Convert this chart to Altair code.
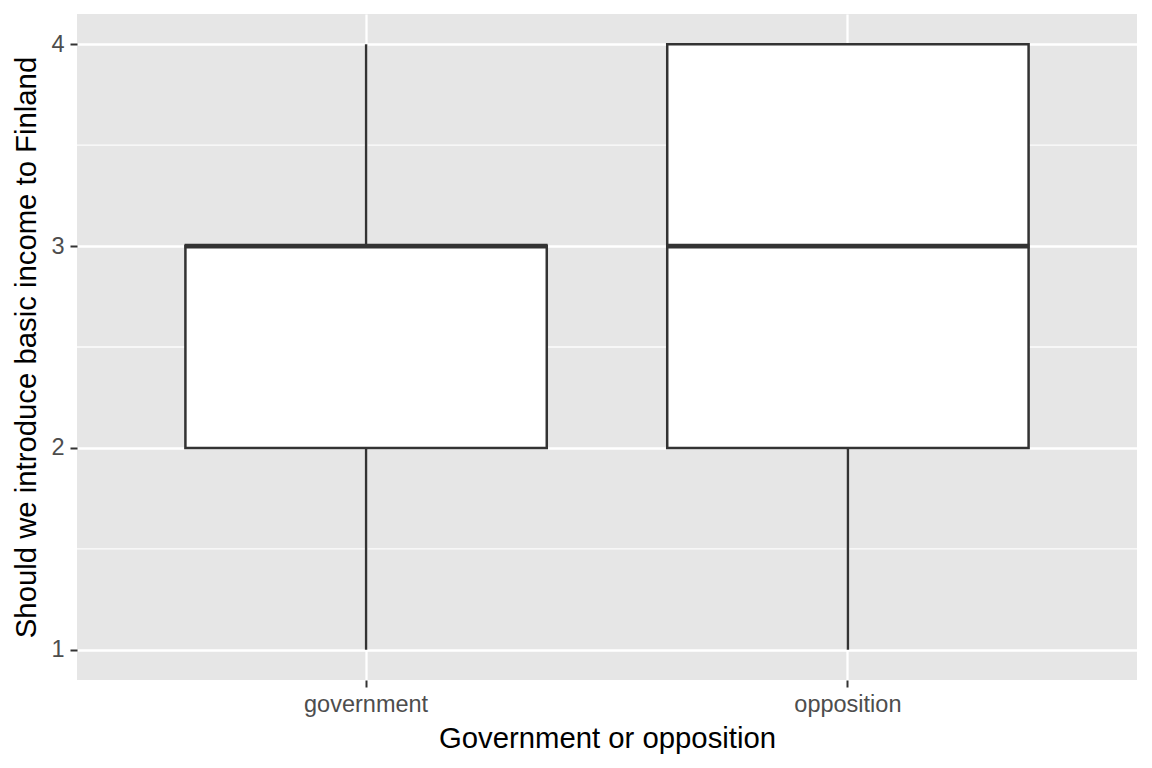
import altair as alt
import pandas as pd

groups = ["government", "opposition"]
mins = [1, 1]
q1s = [2, 2]
medians = [3, 3]
q3s = [3, 4]
maxs = [4, 4]
minor_ticks = [1.5, 2.5, 3.5]

df = pd.DataFrame({"group": groups, "lo": mins, "q1": q1s, "med": medians, "q3": q3s, "hi": maxs})
minor = pd.DataFrame({"v": minor_ticks})

xscale = alt.Scale(domain=groups, paddingInner=0.25, paddingOuter=0.225)
yscale = alt.Scale(domain=[0.85, 4.15], nice=False, zero=False)

common = dict(grid=True, gridColor="white", gridWidth=2.3, domain=False,
              tickColor="#333333", tickSize=7, tickWidth=2,
              labelColor="#4D4D4D", labelFontSize=23.5,
              titleFontSize=29.3, titleFontWeight="normal", titleColor="black",
              labelFont="Liberation Sans", titleFont="Liberation Sans")

xaxis = alt.Axis(title="Government or opposition", bandPosition=0.5, labelAngle=0,
                 labelPadding=5, titlePadding=9, **common)
yaxis = alt.Axis(title="Should we introduce basic income to Finland", values=[1, 2, 3, 4], format="d",
                 labelPadding=6, titlePadding=9, **common)

base = alt.Chart(df)

minor_rules = alt.Chart(minor).mark_rule(color="white", strokeWidth=1.3, opacity=0.9).encode(
    y=alt.Y("v:Q", scale=yscale, axis=yaxis)
)

X = alt.X("group:N", scale=xscale, axis=xaxis, sort=groups)

whisk_lo = base.mark_rule(color="#333333", strokeWidth=2.4).encode(
    x=X, y=alt.Y("lo:Q", scale=yscale, axis=yaxis), y2="q1:Q")
whisk_hi = base.mark_rule(color="#333333", strokeWidth=2.4).encode(
    x=X, y=alt.Y("q3:Q", scale=yscale, axis=yaxis), y2="hi:Q")
box = base.mark_bar(fill="white", stroke="#333333", strokeWidth=2.5).encode(
    x=X, y=alt.Y("q1:Q", scale=yscale, axis=yaxis), y2="q3:Q")
median = base.mark_tick(color="#333333", thickness=4.8, opacity=1).encode(
    x=X, y=alt.Y("med:Q", scale=yscale, axis=yaxis),
    size=alt.value(363))

chart = alt.layer(minor_rules, whisk_lo, whisk_hi, box, median).properties(
    width=1060, height=666,
    background="white",
    autosize=alt.AutoSizeParams(type="none"),
    padding={"left": 77, "top": 14, "right": 15, "bottom": 88},
).configure_view(fill="#E6E6E6", stroke=None)

chart.save("out.html", embed_options={"renderer": "svg", "actions": False})
